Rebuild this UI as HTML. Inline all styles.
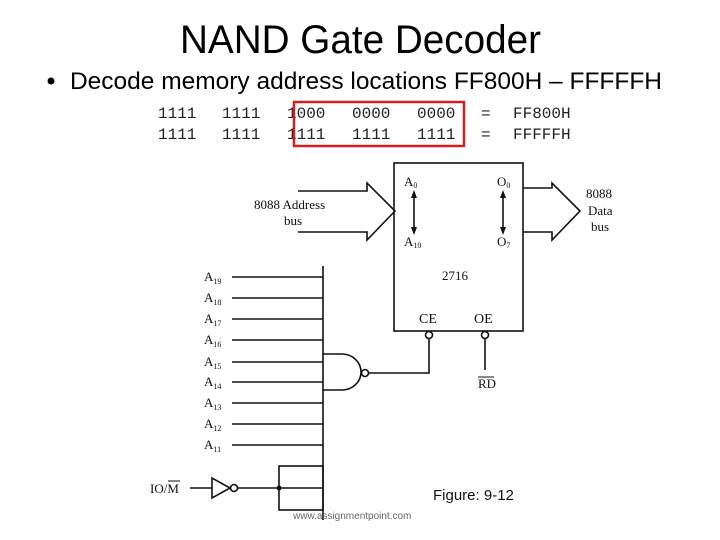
<!DOCTYPE html>
<html><head><meta charset="utf-8"><style>
html,body{margin:0;padding:0;background:#fff;}
svg{display:block;}
</style></head><body>
<svg width="720" height="540" viewBox="0 0 720 540" xmlns="http://www.w3.org/2000/svg">
<rect width="720" height="540" fill="#fff"/>
<text x="180" y="53" font-family="Liberation Sans, sans-serif" font-size="40" textLength="361" lengthAdjust="spacingAndGlyphs">NAND Gate Decoder</text>
<circle cx="51" cy="81" r="3.5" fill="#000"/>
<text x="70" y="89" font-family="Liberation Sans, sans-serif" font-size="24" textLength="592" lengthAdjust="spacingAndGlyphs">Decode memory address locations FF800H – FFFFFH</text>
<g font-family="Liberation Mono, monospace" font-size="16" fill="#222">
<text x="158" y="118">1111</text><text x="222" y="118">1111</text><text x="287" y="118">1000</text><text x="352" y="118">0000</text><text x="417" y="118">0000</text><text x="481" y="118">=</text><text x="513" y="118">FF800H</text>
<text x="158" y="139">1111</text><text x="222" y="139">1111</text><text x="287" y="139">1111</text><text x="352" y="139">1111</text><text x="417" y="139">1111</text><text x="481" y="139">=</text><text x="513" y="139">FFFFFH</text>
</g>
<rect x="294" y="102" width="170" height="44" fill="none" stroke="#d02020" stroke-width="2.5"/>
<g stroke="#111" stroke-width="1.6" fill="none">
<rect x="394" y="163" width="129" height="168"/>
<polyline points="298,191 367,191 367,183 395,211 367,240 367,232 298,232"/>
<polyline points="523,188 552,188 552,183 580,211 552,240 552,232 523,232"/>
<line x1="414" y1="195" x2="414" y2="230"/><line x1="503" y1="195" x2="503" y2="230"/>
<line x1="323" y1="266" x2="323" y2="520"/>
<line x1="232" y1="277" x2="323" y2="277"/><line x1="232" y1="298" x2="323" y2="298"/><line x1="232" y1="319" x2="323" y2="319"/><line x1="232" y1="340" x2="323" y2="340"/><line x1="232" y1="362" x2="323" y2="362"/><line x1="232" y1="382" x2="323" y2="382"/><line x1="232" y1="403" x2="323" y2="403"/><line x1="232" y1="424" x2="323" y2="424"/><line x1="232" y1="445" x2="323" y2="445"/>
<path d="M323,354 L342,354 A19,18 0 0 1 342,390 L323,390"/>
<circle cx="365" cy="373" r="3.5"/>
<polyline points="369,373 429,373 429,339"/>
<circle cx="429" cy="335" r="3.5"/><circle cx="485" cy="335" r="3.5"/>
<line x1="485" y1="339" x2="485" y2="370"/>
<line x1="190" y1="488" x2="212" y2="488"/>
<polygon points="212,478 212,498 230,488"/>
<circle cx="234" cy="488" r="3.5"/>
<line x1="238" y1="488" x2="323" y2="488"/>
<rect x="279" y="466" width="44" height="44"/>
</g>
<circle cx="279" cy="488" r="2.5" fill="#111"/>
<g fill="#111"><polygon points="414,190 411,198 417,198"/><polygon points="414,235 411,227 417,227"/><polygon points="503,190 500,198 506,198"/><polygon points="503,235 500,227 506,227"/></g>
<g font-family="Liberation Serif, serif" font-size="13" fill="#111">
<text x="254" y="209">8088 Address</text><text x="284" y="225">bus</text>
<text x="586" y="198">8088</text><text x="588" y="215">Data</text><text x="591" y="231">bus</text>
<text x="404" y="186">A<tspan font-size="8" dy="2">0</tspan></text>
<text x="404" y="246">A<tspan font-size="8" dy="2">10</tspan></text>
<text x="497" y="186">O<tspan font-size="8" dy="2">0</tspan></text>
<text x="497" y="246">O<tspan font-size="8" dy="2">7</tspan></text>
<text x="442" y="280">2716</text>
<text x="419" y="323" font-size="14">CE</text><text x="474" y="323" font-size="14">OE</text>
<text x="478" y="388">RD</text>
<text x="150" y="493">IO/M</text>
<text x="204" y="281">A<tspan font-size="8" dy="3">19</tspan></text>
<text x="204" y="302">A<tspan font-size="8" dy="3">18</tspan></text>
<text x="204" y="323">A<tspan font-size="8" dy="3">17</tspan></text>
<text x="204" y="344">A<tspan font-size="8" dy="3">16</tspan></text>
<text x="204" y="366">A<tspan font-size="8" dy="3">15</tspan></text>
<text x="204" y="386">A<tspan font-size="8" dy="3">14</tspan></text>
<text x="204" y="407">A<tspan font-size="8" dy="3">13</tspan></text>
<text x="204" y="428">A<tspan font-size="8" dy="3">12</tspan></text>
<text x="204" y="449">A<tspan font-size="8" dy="3">11</tspan></text>
</g>
<line x1="478" y1="377" x2="494" y2="377" stroke="#111" stroke-width="1"/>
<line x1="168" y1="481" x2="180" y2="481" stroke="#111" stroke-width="1"/>
<text x="433" y="500" font-family="Liberation Sans, sans-serif" font-size="15" fill="#111">Figure: 9-12</text>
<text x="293" y="519" font-family="Liberation Sans, sans-serif" font-size="10" fill="#666">www.assignmentpoint.com</text>
</svg>
</body></html>
